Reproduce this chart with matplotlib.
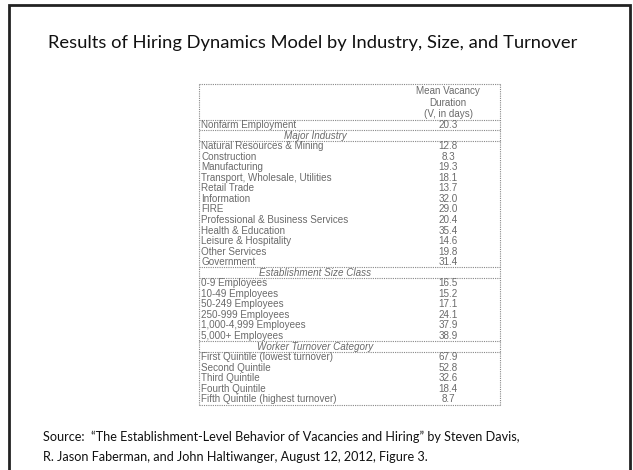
import matplotlib.pyplot as plt

# table data
title = 'Results of Hiring Dynamics Model by Industry, Size, and Turnover'
col_header = ['Mean Vacancy', 'Duration', '(V, in days)']
total_label = 'Nonfarm Employment'
total_value = 20.3

industry_labels = ['Natural Resources & Mining', 'Construction', 'Manufacturing',
                   'Transport, Wholesale, Utilities', 'Retail Trade', 'Information',
                   'FIRE', 'Professional & Business Services', 'Health & Education',
                   'Leisure & Hospitality', 'Other Services', 'Government']
industry_values = [12.8, 8.3, 19.3, 18.1, 13.7, 32.0, 29.0, 20.4, 35.4, 14.6, 19.8, 31.4]

size_labels = ['0-9 Employees', '10-49 Employees', '50-249 Employees',
               '250-999 Employees', '1,000-4,999 Employees', '5,000+ Employees']
size_values = [16.5, 15.2, 17.1, 24.1, 37.9, 38.9]

turnover_labels = ['First Quintile (lowest turnover)', 'Second Quintile', 'Third Quintile',
                   'Fourth Quintile', 'Fifth Quintile (highest turnover)']
turnover_values = [67.9, 52.8, 32.6, 18.4, 8.7]

sections = [('Major Industry', industry_labels, industry_values),
            ('Establishment Size Class', size_labels, size_values),
            ('Worker Turnover Category', turnover_labels, turnover_values)]

source = ('Source:  \u201cThe Establishment-Level Behavior of Vacancies and Hiring\u201d by Steven Davis,\n'
          'R. Jason Faberman, and John Haltiwanger, August 12, 2012, Figure 3.')

fig = plt.figure(figsize=(6.33, 4.70), dpi=100)
ax = fig.add_axes([0, 0, 1, 1])
ax.set_xlim(0, 633)
ax.set_ylim(470, 0)
ax.axis('off')

# slide frame
ax.plot([9, 9, 630, 630], [470, 5, 5, 470], color='#222222', lw=2, solid_joinstyle='miter')

ax.text(313, 43, title, ha='center', va='center', fontsize=13.25, family='Lato', color='#111111')

# table geometry
left, right = 199, 500
val_x = 448
step = 10.55
tcol = '#6a6a6a'
tfont = dict(fontsize=7.1, family='Liberation Sans', color=tcol, va='center')
lkw = dict(color='#888888', lw=0.8, ls=(0, (1, 1)))

def hline(y):
    ax.plot([left, right], [y, y], **lkw)

top = 84
for i, h in enumerate(col_header):
    ax.text(val_x, 91 + i * 11.5, h, ha='center', **tfont)
hline(top)

y = 125
hline(y - step / 2)
ax.text(left + 2, y, total_label, ha='left', **tfont)
ax.text(val_x, y, f'{total_value:.1f}', ha='center', **tfont)
hline(y + step / 2)

for name, labels, values in sections:
    y += step
    ax.text(315, y, name, ha='center', style='italic', **tfont)
    hline(y + step / 2)
    for lab, v in zip(labels, values):
        y += step
        ax.text(left + 2, y, lab, ha='left', **tfont)
        ax.text(val_x, y, f'{v:.1f}', ha='center', **tfont)
    hline(y + step / 2)

bottom = y + step / 2
ax.plot([left, left], [top, bottom], **lkw)
ax.plot([right, right], [top, bottom], **lkw)

ax.text(43, 447, source, ha='left', va='center', fontsize=9.1, family='Lato',
        color='#111111', linespacing=1.75)

fig.savefig('out.png', dpi=100)
